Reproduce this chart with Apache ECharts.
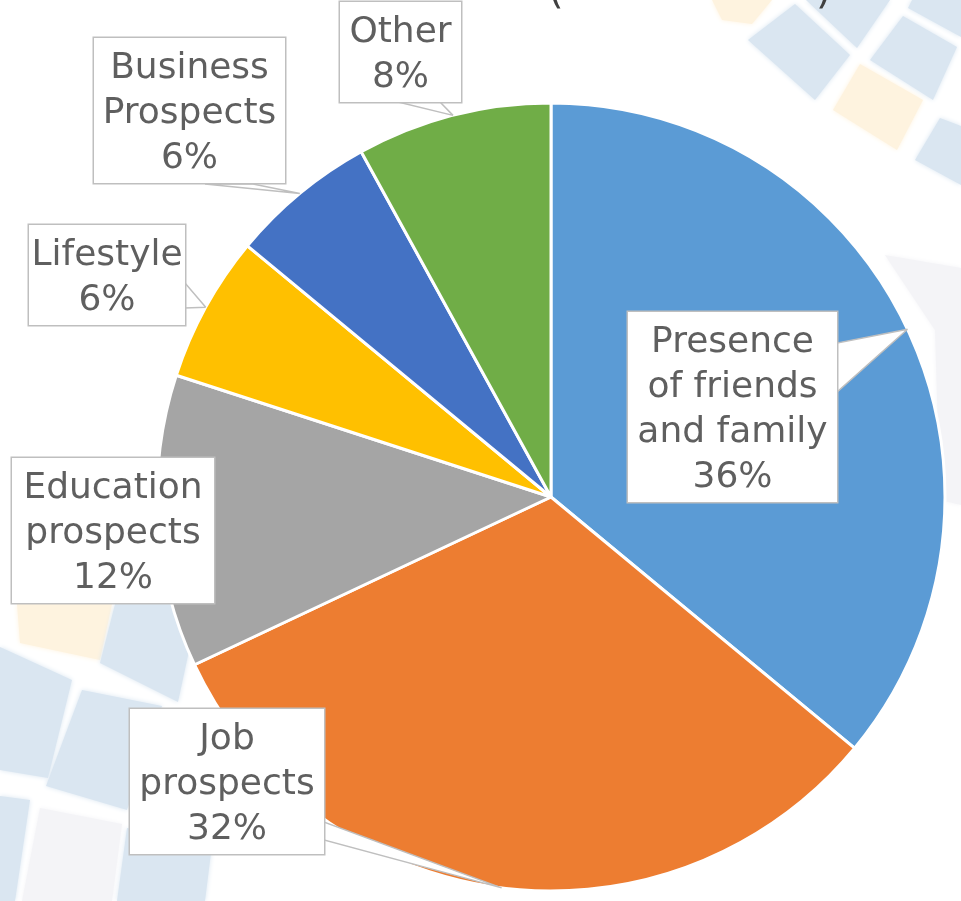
<!DOCTYPE html>
<html>
<head>
<meta charset="utf-8">
<script src="https://cdn.jsdelivr.net/npm/echarts@6/dist/echarts.min.js"></script>
<style>
  html, body { margin: 0; padding: 0; background: #fff; }
  #main { width: 961px; height: 901px; }
</style>
</head>
<body>
<div id="main"></div>
<script>
const categories = ['Presence\nof friends\nand family', 'Job\nprospects', 'Education\nprospects', 'Lifestyle', 'Business\nProspects', 'Other'];
const shares = [36, 32, 12, 6, 6, 8];
const colors = ['#5B9BD5', '#ED7D31', '#A5A5A5', '#FFC000', '#4472C4', '#70AD47'];

// callout boxes (left, top, width) and the two points where the pointer leaves the box
const callouts = [
  { left: 628, top: 312, width: 209, tip: [[837, 343], [837, 392]] },
  { left: 130, top: 709, width: 194, tip: [[324, 822], [324, 840]] },
  { left: 12, top: 458, width: 202, tip: null },
  { left: 29, top: 225, width: 156, tip: [[185, 283], [185, 308]] },
  { left: 94, top: 38, width: 191, tip: [[205, 184], [253, 184]] },
  { left: 340, top: 2, width: 121, tip: [[398, 102], [440, 102]] }
];

// faint background tiles of the slide
const BLUE = '#DAE6F1', YELLOW = '#FEF3DF', LAV = '#F4F4F7';
const tiles = [
  [BLUE, [[748, 40], [795, 4], [850, 55], [815, 100]]],
  [BLUE, [[806, 0], [890, 0], [857, 48]]],
  [BLUE, [[870, 60], [903, 16], [957, 47], [933, 100]]],
  [BLUE, [[908, 8], [912, 0], [961, 0], [961, 37]]],
  [YELLOW, [[833, 110], [860, 64], [923, 100], [897, 150]]],
  [BLUE, [[915, 160], [940, 118], [961, 126], [961, 185]]],
  [YELLOW, [[712, 0], [772, 0], [752, 24], [722, 20]]],
  [LAV, [[885, 255], [961, 268], [961, 505], [940, 500], [935, 330]]],
  [YELLOW, [[17, 604], [112, 604], [100, 660], [20, 643]]],
  [BLUE, [[115, 604], [200, 600], [178, 702], [100, 663]]],
  [BLUE, [[0, 647], [72, 680], [48, 778], [0, 770]]],
  [BLUE, [[82, 690], [162, 706], [127, 810], [46, 786]]],
  [BLUE, [[0, 796], [30, 800], [15, 901], [0, 901]]],
  [LAV, [[40, 808], [122, 824], [112, 901], [22, 901]]],
  [BLUE, [[127, 828], [212, 845], [205, 901], [117, 901]]]
];

const chart = echarts.init(document.getElementById('main'));

const graphics = tiles.map(function (t, i) {
  return {
    id: 'tile' + i,
    type: 'polygon',
    z: -10,
    silent: true,
    shape: { points: t[1] },
    style: { fill: t[0], shadowBlur: 5, shadowColor: t[0] }
  };
});
graphics.push(
  { id: 'pl', type: 'text', x: 548, y: 13, style: { text: '(', fontSize: 40, fontFamily: 'DejaVu Sans', fill: '#404040', verticalAlign: 'bottom' } },
  { id: 'pr', type: 'text', x: 816, y: 13, style: { text: ')', fontSize: 40, fontFamily: 'DejaVu Sans', fill: '#404040', verticalAlign: 'bottom' } }
);

const pieData = categories.map(function (name, i) {
  return { name: name, value: shares[i], label: { width: callouts[i].width } };
});

// slice edge points handed over by the pie layout, used for the callout pointers
const apexes = [];

chart.setOption({
  backgroundColor: '#fff',
  animation: false,
  color: colors,
  graphic: graphics,
  series: [{
    // the slices
    type: 'pie',
    center: [551, 497],
    radius: 394,
    startAngle: 90,
    clockwise: true,
    silent: true,
    itemStyle: { borderColor: '#fff', borderWidth: 3 },
    label: { show: false },
    labelLine: { show: false },
    data: pieData
  }, {
    // same pie, invisible, only carrying the callouts so they sit on top
    type: 'pie',
    z: 5,
    center: [551, 497],
    radius: 394,
    startAngle: 90,
    clockwise: true,
    silent: true,
    avoidLabelOverlap: false,
    itemStyle: { color: 'rgba(0,0,0,0)', borderWidth: 0 },
    label: {
      show: true,
      position: 'outside',
      formatter: function (p) { return p.name + '\n' + p.value + '%'; },
      fontFamily: 'DejaVu Sans',
      fontSize: 36,
      lineHeight: 45,
      color: '#5f5f5f',
      align: 'center',
      backgroundColor: '#fff',
      borderColor: '#BFBFBF',
      borderWidth: 1.5,
      padding: [8, 0, 2, 0]
    },
    labelLine: {
      show: true,
      lineStyle: { color: '#BFBFBF', width: 1.5 }
    },
    labelLayout: function (params) {
      const c = callouts[params.dataIndex];
      const out = { x: c.left + c.width / 2, y: c.top, align: 'center', verticalAlign: 'top' };
      const pts = params.labelLinePoints;
      if (pts) {
        const p0 = pts[0];
        apexes[params.dataIndex] = [p0[0], p0[1]];
        out.labelLinePoints = c.tip ? [p0, c.tip[0], c.tip[1], p0] : [p0, p0];
      }
      return out;
    },
    data: pieData
  }]
});

// white fill of the callout wedges, between the slices and the outlines
const wedges = [];
callouts.forEach(function (c, i) {
  if (!c.tip || !apexes[i]) return;
  wedges.push({
    id: 'wedge' + i,
    type: 'polygon',
    z: 4,
    silent: true,
    shape: { points: [apexes[i], c.tip[0], c.tip[1]] },
    style: { fill: '#fff' }
  });
});
chart.setOption({ graphic: graphics.concat(wedges) });
</script>
</body>
</html>
